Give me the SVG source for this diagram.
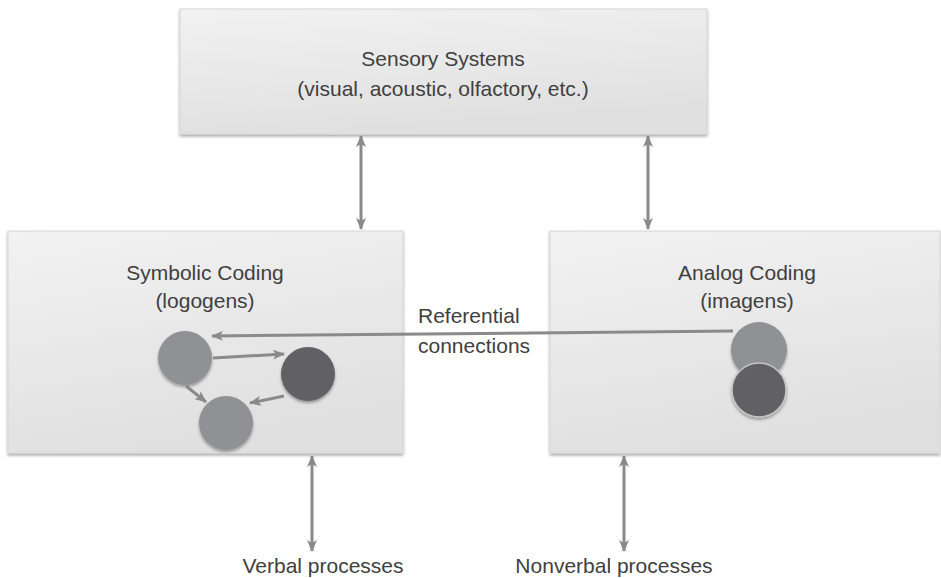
<svg xmlns="http://www.w3.org/2000/svg" width="941" height="578" viewBox="0 0 941 578">
<defs>
<linearGradient id="boxg" x1="0" y1="0" x2="0.3" y2="1">
<stop offset="0" stop-color="#f2f2f2"/>
<stop offset="1" stop-color="#e0e0e0"/>
</linearGradient>
<filter id="sh" x="-10%" y="-10%" width="120%" height="130%">
<feGaussianBlur in="SourceAlpha" stdDeviation="1.5"/>
<feOffset dx="0" dy="2" result="b"/>
<feComponentTransfer><feFuncA type="linear" slope="0.35"/></feComponentTransfer>
<feMerge><feMergeNode/><feMergeNode in="SourceGraphic"/></feMerge>
</filter>
<marker id="ah" viewBox="0 0 12 10" refX="11" refY="5" markerWidth="12" markerHeight="10" markerUnits="userSpaceOnUse" orient="auto-start-reverse">
<path d="M0,0 L12,5 L0,10 L3,5 Z" fill="#8a8a8c"/>
</marker>
</defs>
<style>
.box{fill:url(#boxg);stroke:#d6d6d6;stroke-width:1}
.t{font-family:"Liberation Sans",Arial,sans-serif;font-size:21px;fill:#404040}
.c{text-anchor:middle}
.con{stroke:#8a8a8c;stroke-width:3;fill:none}
.lt{fill:#909195}
.dk{fill:#606165}
</style>
<rect width="941" height="578" fill="#ffffff"/>
<g id="sensory">
<rect class="box" x="180" y="9" width="527" height="125" filter="url(#sh)"/>
<text class="t c" x="443" y="66">Sensory Systems</text>
<text class="t c" x="443" y="96">(visual, acoustic, olfactory, etc.)</text>
</g>
<g id="symbolic">
<rect class="box" x="8" y="231" width="395" height="222" filter="url(#sh)"/>
<text class="t c" x="205" y="280">Symbolic Coding</text>
<text class="t c" x="205" y="308">(logogens)</text>
</g>
<g id="analog">
<rect class="box" x="550" y="231" width="390" height="222" filter="url(#sh)"/>
<text class="t c" x="747" y="280">Analog Coding</text>
<text class="t c" x="747" y="308">(imagens)</text>
</g>
<g id="logogen1"><circle class="lt" cx="185" cy="358" r="27" filter="url(#sh)"/></g>
<g id="logogen2"><circle class="dk" cx="308" cy="374" r="27" filter="url(#sh)"/></g>
<g id="logogen3"><circle class="lt" cx="226" cy="423" r="27" filter="url(#sh)"/></g>
<g id="imagen1"><circle class="lt" cx="759" cy="350" r="28" filter="url(#sh)"/></g>
<g id="imagen2"><circle class="dk" cx="759" cy="390" r="27" stroke="#c4c4c6" stroke-width="1.5" filter="url(#sh)"/></g>
<g id="referential-label">
<text class="t" x="418" y="323">Referential</text>
<text class="t" x="418" y="353">connections</text>
</g>
<g id="verbal"><text class="t c" x="323" y="573">Verbal processes</text></g>
<g id="nonverbal"><text class="t c" x="614" y="573">Nonverbal processes</text></g>
<g id="connectors">
<line class="con" x1="361" y1="136" x2="361" y2="229" marker-start="url(#ah)" marker-end="url(#ah)"/>
<line class="con" x1="648" y1="136" x2="648" y2="229" marker-start="url(#ah)" marker-end="url(#ah)"/>
<line class="con" x1="312" y1="456" x2="312" y2="551" marker-start="url(#ah)" marker-end="url(#ah)"/>
<line class="con" x1="624" y1="456" x2="624" y2="551" marker-start="url(#ah)" marker-end="url(#ah)"/>
<line class="con" x1="733" y1="331" x2="212" y2="336" marker-end="url(#ah)"/>
<line class="con" x1="213" y1="358" x2="284" y2="354" marker-end="url(#ah)"/>
<line class="con" x1="186" y1="386" x2="206" y2="402" marker-end="url(#ah)"/>
<line class="con" x1="284" y1="396" x2="250" y2="403" marker-end="url(#ah)"/>
</g>
</svg>
